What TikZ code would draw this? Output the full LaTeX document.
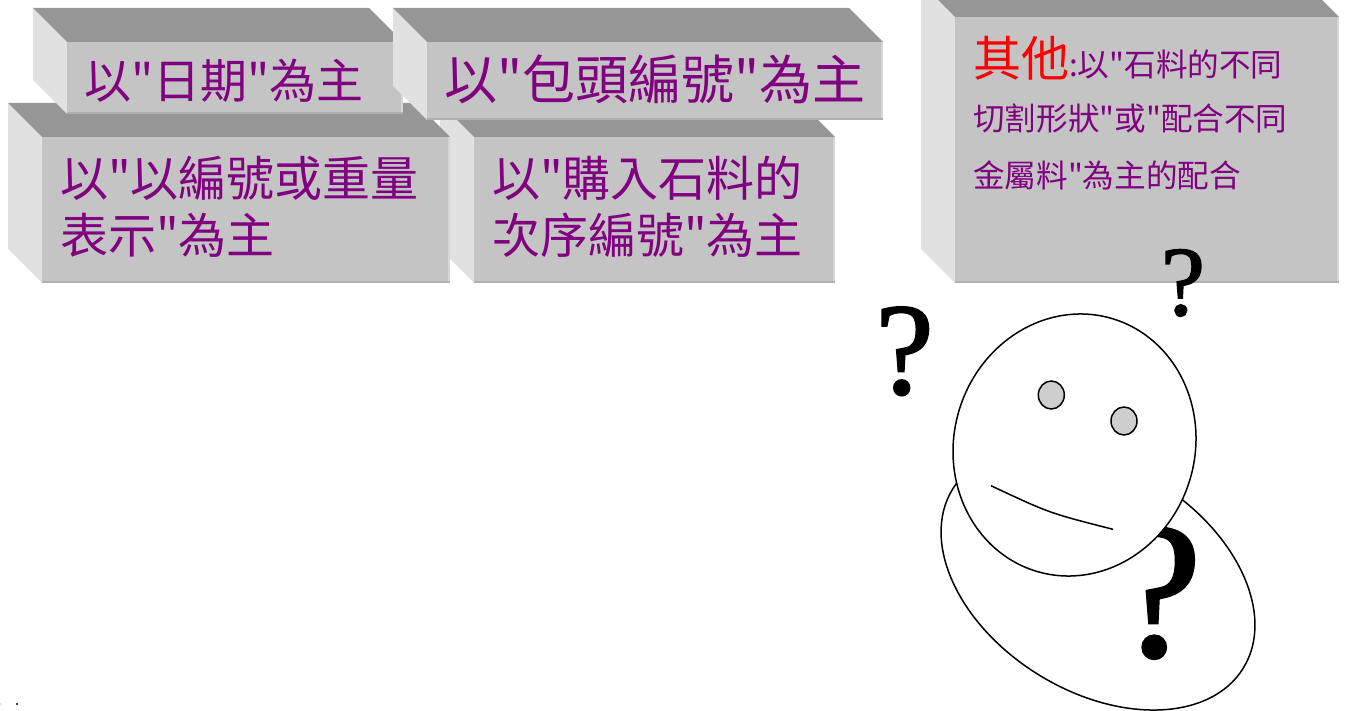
\documentclass[tikz,border=0pt]{standalone}
\usepackage{fontspec}
\newfontfamily\cjk{Noto Sans CJK TC}
\newfontfamily\qmark[FakeBold=1.5]{Liberation Serif}

\definecolor{topgray}{RGB}{150,150,150}
\definecolor{sidegray}{RGB}{225,225,225}
\definecolor{frontgray}{RGB}{196,196,196}
\definecolor{edgedark}{RGB}{176,176,176}
\definecolor{edgelight}{RGB}{214,214,214}
\definecolor{txtpurple}{RGB}{128,0,128}
\definecolor{eyegray}{RGB}{206,206,206}

% A raised slab: front face from (#1,#2) to (#3,#4), depth #5 (all in px, y downwards)
\newcommand\drawslab[5]{%
  \fill[sidegray] (#1-#5,-#2+#5) -- (#1,-#2) -- (#1,-#4) -- (#1-#5,-#4+#5) -- cycle;
  \fill[topgray] (#1-#5,-#2+#5) -- (#3-#5,-#2+#5) -- (#3,-#2) -- (#1,-#2) -- cycle;
  \fill[frontgray] (#1,-#2) rectangle (#3,-#4);
  \draw[edgelight, line width=2pt] (#3-1,-#2) -- (#3-1,-#4);
  \draw[edgedark, line width=2pt] (#1,-#4+1) -- (#3,-#4+1);
}

\begin{document}
\begin{tikzpicture}[x=1pt, y=1pt,
  boxtext/.style={inner sep=0pt, anchor=base west, text=txtpurple, font=\cjk},
  figline/.style={draw=black, line width=1.5pt},
  query/.style={inner sep=0pt, anchor=base, text=black}]
\useasboundingbox (0,0) rectangle (1346,-711);

% slabs, back to front
\drawslab{955}{17}{1339}{283}{34}
\drawslab{474}{137}{835}{283}{34}
\drawslab{42}{137}{450}{283}{34}
\drawslab{67}{42}{403}{114}{34}
\drawslab{427}{42}{883}{120}{34}

% slab labels
\node[boxtext, font=\cjk\fontsize{47}{47}\selectfont] (date) at (84,-98.7) {以"日期"為主};
\node[boxtext, font=\cjk\fontsize{53}{53}\selectfont] (pack) at (444,-99.3) {以"包頭編號"為主};
\node[boxtext, font=\cjk\fontsize{48}{48}\selectfont] (weightA) at (60,-196.6) {以"以編號或重量};
\node[boxtext, font=\cjk\fontsize{48}{48}\selectfont] (weightB) at (60,-253.6) {表示"為主};
\node[boxtext, font=\cjk\fontsize{48}{48}\selectfont] (orderA) at (492,-196.6) {以"購入石料的};
\node[boxtext, font=\cjk\fontsize{48}{48}\selectfont] (orderB) at (492,-253.6) {次序編號"為主};
\node[boxtext, font=\cjk\fontsize{31.6}{31.6}\selectfont] (otherA) at (973,-77)
  {{\color{red}\fontsize{48}{48}\selectfont 其他}:以"石料的不同};
\node[boxtext, font=\cjk\fontsize{31.6}{31.6}\selectfont] (otherB) at (973,-130.8) {切割形狀"或"配合不同};
\node[boxtext, font=\cjk\fontsize{31.6}{31.6}\selectfont] (otherC) at (973,-187.8) {金屬料"為主的配合};

% puzzled figure
\draw[figline, fill=white, rotate around={-31.7:(1098,-578.5)}]
  (1098,-578.5) ellipse [x radius=170.7, y radius=113.1];
\node[query, font=\qmark\fontsize{194}{194}\selectfont] (qbig) at (1158.5,-656) {?};
\draw[figline, fill=white, rotate around={-16.7:(1074.5,-445)}]
  (1074.5,-445) ellipse [x radius=120.5, y radius=131.9];
\draw[figline, fill=eyegray] (1051.3,-395) ellipse [x radius=13, y radius=14];
\draw[figline, fill=eyegray] (1124,-421) ellipse [x radius=13, y radius=14];
\draw[figline] (991,-485.7) .. controls (1049.3,-513.1) .. (1113,-529.3);
\node[query, font=\qmark\fontsize{131}{131}\selectfont] (qleft) at (904.6,-393.7) {?};
\node[query, font=\qmark\fontsize{99}{99}\selectfont] (qtop) at (1183,-315) {?};

% stray marks at the lower left
\fill[black] (17,-704) circle (1.1);
\fill[gray!60] (0.8,-704) circle (0.7);
\end{tikzpicture}
\end{document}
